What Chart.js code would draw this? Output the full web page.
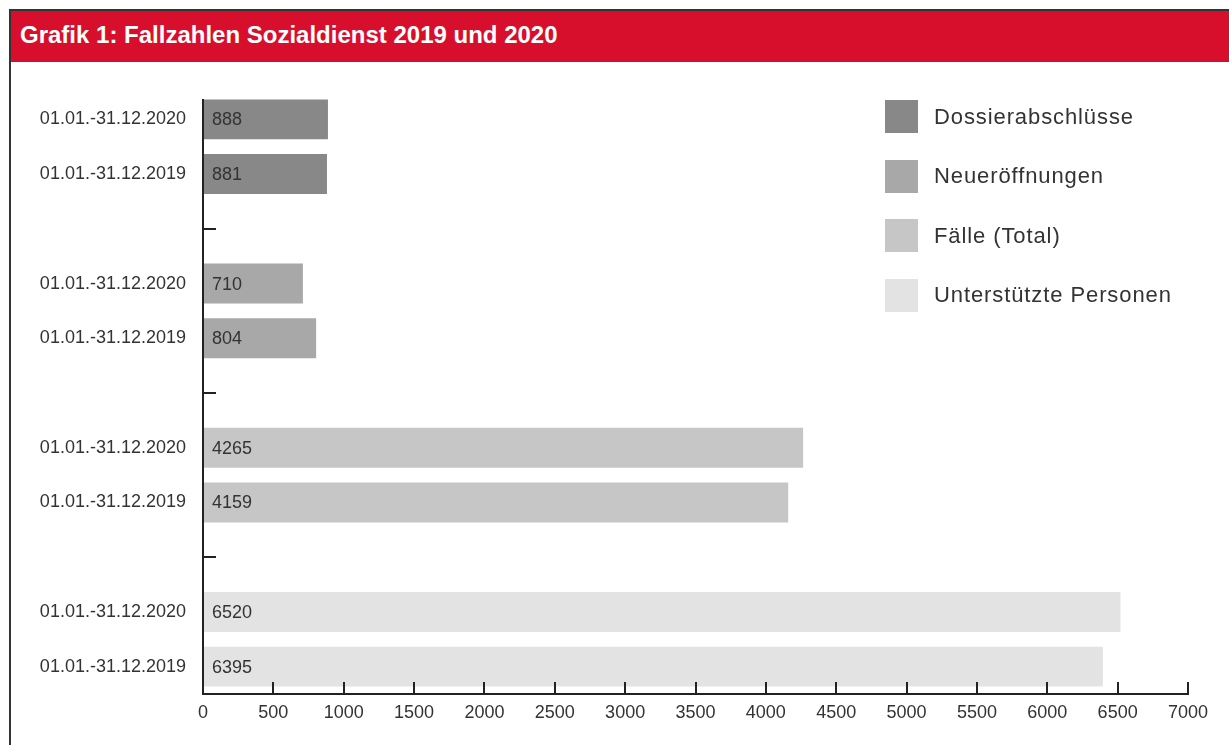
<!DOCTYPE html>
<html>
<head>
<meta charset="utf-8">
<script src="https://cdn.jsdelivr.net/npm/chart.js@4"></script>
<style>
    body { margin: 0; background: #fff; width: 1229px; height: 745px; overflow: hidden; position: relative; font-family: "Liberation Sans", Arial, sans-serif; }
    #frame { position: absolute; left: 9px; top: 9px; width: 1240px; height: 760px; border-top: 2px solid #333; border-left: 2px solid #333; }
    #header { position: absolute; left: 11px; top: 11px; width: 1218px; height: 51px; background: #d80f2c; }
    #header h1 { margin: 0; color: #fff; font-size: 24px; font-weight: bold; line-height: 47px; padding-left: 9px; }
    #chartBox { position: absolute; left: 11px; top: 63px; width: 1218px; height: 682px; }
    #legend { position: absolute; left: 885px; top: 100px; }
    .item { display: flex; align-items: center; height: 33px; margin-bottom: 26.5px; }
    .box { width: 33px; height: 33px; margin-right: 16px; }
    .item span { font-size: 22px; color: #333; letter-spacing: 0.9px; }
</style>
</head>
<body>
<div id="frame"></div>
<div id="header"><h1>Grafik 1: Fallzahlen Sozialdienst 2019 und 2020</h1></div>
<div id="chartBox"><canvas id="fallChart"></canvas></div>
<div id="legend"></div>

<script>
// Daten
const periods = ['01.01.-31.12.2020', '01.01.-31.12.2019'];
const groups = ['Dossierabschlüsse', 'Neueröffnungen', 'Fälle (Total)', 'Unterstützte Personen'];
const dossierabschluesse = [888, 881];
const neueroeffnungen = [710, 804];
const faelleTotal = [4265, 4159];
const unterstuetztePersonen = [6520, 6395];
const xTicks = [0, 500, 1000, 1500, 2000, 2500, 3000, 3500, 4000, 4500, 5000, 5500, 6000, 6500, 7000];

const groupColors = ['#888888', '#a8a8a8', '#c6c6c6', '#e3e3e3'];
const textColor = '#333';

// Kategorien mit Lücken zwischen den Gruppen aufbauen
const series = [dossierabschluesse, neueroeffnungen, faelleTotal, unterstuetztePersonen];
const labels = [];
const values = [];
const colors = [];
const gapIndex = [];
series.forEach((s, g) => {
    if (g > 0) {
        gapIndex.push(labels.length);
        labels.push('');
        values.push(null);
        colors.push('transparent');
    }
    s.forEach((v, i) => {
        labels.push(periods[i]);
        values.push(v);
        colors.push(groupColors[g]);
    });
});

// Legende
const legend = document.getElementById('legend');
groups.forEach((name, g) => {
    const item = document.createElement('div');
    item.className = 'item';
    item.innerHTML = `<div class="box" style="background:${groupColors[g]}"></div><span>${name}</span>`;
    legend.appendChild(item);
});

// Werte in den Balken + Achsenlinie und Striche
const extrasPlugin = {
    id: 'extras',
    afterDatasetsDraw(chart) {
        const ctx = chart.ctx;
        const x = chart.scales.x;
        const y = chart.scales.y;
        const bars = chart.getDatasetMeta(0).data;
        ctx.save();
        ctx.font = '18px "Liberation Sans", Arial, sans-serif';
        ctx.fillStyle = textColor;
        ctx.textBaseline = 'middle';
        ctx.textAlign = 'left';
        bars.forEach((bar, i) => {
            if (values[i] == null) return;
            ctx.fillText(String(values[i]), x.left + 9, bar.y + 1);
        });

        ctx.strokeStyle = '#222';
        ctx.lineWidth = 2;
        // y-Achse: beginnt oben am ersten Balken
        const top = Math.round(bars[0].y - bars[0].height / 2);
        ctx.beginPath();
        ctx.moveTo(x.left, top);
        ctx.lineTo(x.left, y.bottom);
        ctx.stroke();
        // x-Achse: Striche nach innen
        xTicks.forEach(t => {
            const px = Math.round(x.getPixelForValue(t));
            ctx.beginPath();
            ctx.moveTo(px, y.bottom);
            ctx.lineTo(px, y.bottom - 12);
            ctx.stroke();
        });
        // y-Achse: Striche bei den Lücken
        gapIndex.forEach(i => {
            const py = Math.round(y.getPixelForValue(i));
            ctx.beginPath();
            ctx.moveTo(x.left, py);
            ctx.lineTo(x.left + 13, py);
            ctx.stroke();
        });
        ctx.restore();
    }
};

new Chart(document.getElementById('fallChart'), {
    type: 'bar',
    data: {
        labels: labels,
        datasets: [{
            data: values,
            backgroundColor: colors,
            borderWidth: 0,
            categoryPercentage: 1,
            barPercentage: 0.73
        }]
    },
    options: {
        indexAxis: 'y',
        responsive: true,
        maintainAspectRatio: false,
        animation: false,
        layout: {
            padding: { left: 0, right: 41, top: 29, bottom: 0 }
        },
        plugins: {
            legend: { display: false },
            tooltip: { enabled: false }
        },
        scales: {
            x: {
                min: 0,
                max: 7000,
                afterBuildTicks: scale => {
                    scale.ticks = xTicks.map(v => ({ value: v }));
                },
                afterFit: scale => { scale.height = 51; },
                grid: { display: false, drawTicks: false },
                border: { display: true, color: '#222', width: 2 },
                ticks: {
                    color: textColor,
                    padding: 8,
                    callback: v => String(v),
                    font: { size: 18, family: '"Liberation Sans", Arial, sans-serif' }
                }
            },
            y: {
                afterFit: scale => { scale.width = 192; },
                grid: { display: false, drawTicks: false },
                border: { display: false },
                ticks: {
                    color: textColor,
                    padding: 17,
                    autoSkip: false,
                    font: { size: 18, family: '"Liberation Sans", Arial, sans-serif' }
                }
            }
        }
    },
    plugins: [extrasPlugin]
});
</script>
</body>
</html>
